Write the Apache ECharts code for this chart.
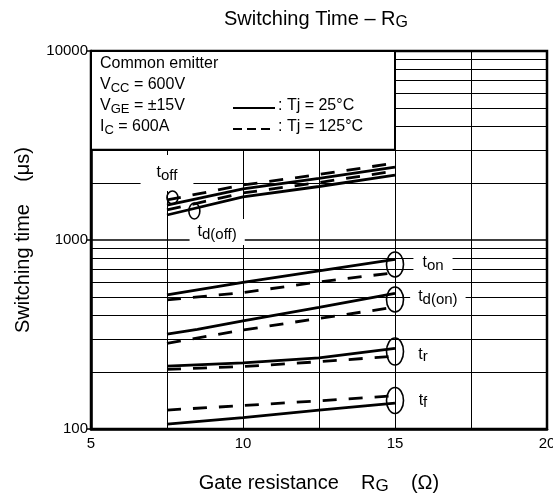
<!DOCTYPE html>
<html>
<head>
<meta charset="utf-8">
<script src="https://cdn.jsdelivr.net/npm/echarts@6/dist/echarts.min.js"></script>
<style>
  html, body { margin: 0; padding: 0; background: #fff; }
  #chart { width: 553px; height: 499px; }
</style>
</head>
<body>
<div id="chart"></div>
<script>
// gate resistance (ohm) where the curves were read
var rg = [7.5, 10, 12.5, 15];
var rgTdOn25 = [7.5, 8.5, 10, 12.5, 15];

// switching times, solid = Tj 25C, dashed = Tj 125C
var toff25 = [1531, 1862, 2116, 2432];
var toff125 = [1628, 1954, 2221, 2553];
var tdoff25 = [1356, 1690, 1919, 2207];
var tdoff125 = [1442, 1774, 2015, 2317];
var ton25 = [512, 597, 686, 790];
var ton125 = [482, 527, 600, 672];
var tdon25 = [318, 337, 373, 440, 522];
var tdon125 = [284, 334, 385, 441];
var tr25 = [215, 224, 238, 267];
var tr125 = [207, 214, 227, 243];
var tf25 = [106, 115, 126, 137];
var tf125 = [126, 133, 141, 150];

var xTicks = [5, 10, 15, 20];
var yMinorTicks = [200, 300, 400, 500, 600, 700, 800, 900, 2000, 3000, 4000, 5000, 6000, 7000, 8000, 9000];

var FONT = '"Liberation Sans", Arial, sans-serif';

function pairs(xs, ys) {
  return xs.map(function (x, i) { return [x, ys[i]]; });
}

function curve(name, xs, ys, dashed) {
  return {
    name: name,
    type: 'line',
    data: pairs(xs, ys),
    symbol: 'none',
    z: 10,
    silent: true,
    lineStyle: { color: '#000', width: 2.8, type: dashed ? [14, 12] : 'solid' }
  };
}

function sub(main, small) {
  return { a: { fontSize: main, fontFamily: FONT, fill: '#000', lineHeight: main + 4 },
           s: { fontSize: small, fontFamily: FONT, fill: '#000', lineHeight: small + 1, verticalAlign: 'bottom' } };
}

function axisRich(main, small) {
  return { a: { fontSize: main, fontFamily: FONT, color: '#000', lineHeight: main + 4 },
           s: { fontSize: small, fontFamily: FONT, color: '#000', lineHeight: small + 1, verticalAlign: 'bottom' } };
}

var chart = echarts.init(document.getElementById('chart'));

var series = [
  curve('toff 25', rg, toff25, false),
  curve('toff 125', rg, toff125, true),
  curve('td(off) 25', rg, tdoff25, false),
  curve('td(off) 125', rg, tdoff125, true),
  curve('ton 25', rg, ton25, false),
  curve('ton 125', rg, ton125, true),
  curve('td(on) 25', rgTdOn25, tdon25, false),
  curve('td(on) 125', rg, tdon125, true),
  curve('tr 25', rg, tr25, false),
  curve('tr 125', rg, tr125, true),
  curve('tf 25', rg, tf25, false),
  curve('tf 125', rg, tf125, true),
  {
    // minor log grid lines
    type: 'line',
    data: [],
    silent: true,
    markLine: {
      silent: true,
      z: 1,
      symbol: ['none', 'none'],
      label: { show: false },
      lineStyle: { color: '#000', width: 1, type: 'solid' },
      emphasis: { disabled: true },
      data: yMinorTicks.map(function (v) { return { yAxis: v }; })
    }
  }
];

var option = {
  animation: false,
  grid: {
    left: 91, right: 6, top: 51, bottom: 70,
    outerBoundsMode: 'none', containLabel: false,
    show: true, borderColor: '#000', borderWidth: 2.5
  },
  xAxis: {
    type: 'value',
    min: 5,
    max: 20,
    interval: 2.5,
    axisLine: { show: true, lineStyle: { color: '#000', width: 2.5 } },
    axisTick: { show: false },
    axisLabel: {
      color: '#000', fontSize: 15, fontFamily: FONT, margin: 7,
      formatter: function (v) { return xTicks.indexOf(v) >= 0 ? String(v) : ''; }
    },
    splitLine: { show: true, lineStyle: { color: '#000', width: 1 } },
    name: '{a|Gate resistance    R}{s|G}{a|    (Ω)}',
    nameLocation: 'middle',
    nameGap: 42,
    nameTextStyle: { rich: axisRich(20, 17) }
  },
  yAxis: {
    type: 'log',
    logBase: 10,
    min: 100,
    max: 10000,
    axisLine: { show: true, lineStyle: { color: '#000', width: 2.5 } },
    axisTick: { show: true, length: 4, lineStyle: { color: '#000', width: 1.5 } },
    axisLabel: {
      color: '#000', fontSize: 15, fontFamily: FONT, margin: 3,
      formatter: function (v) { return String(Math.round(v)); }
    },
    splitLine: { show: true, lineStyle: { color: '#000', width: 1.5 } },
    name: 'Switching time    (μs)',
    nameLocation: 'middle',
    nameGap: 58,
    nameTextStyle: { color: '#000', fontSize: 20, fontFamily: FONT }
  },
  series: series
};

chart.setOption(option);

// annotations placed through the axes
var notes = [
  { txt: '{a|t}{s|off}', at: [7.5, 2262], pad: [8, 16, 8, 16] },
  { txt: '{a|t}{s|d(off)}', at: [9.15, 1102], pad: [3, 8, 3, 8] },
  { txt: '{a|t}{s|on}', at: [16.25, 755], pad: [4, 9, 4, 9] },
  { txt: '{a|t}{s|d(on)}', at: [16.41, 499], pad: [3, 8, 3, 8] },
  { txt: '{a|t}{s|r}', at: [15.92, 249], pad: 0 },
  { txt: '{a|t}{s|f}', at: [15.92, 141], pad: 0 }
];
var loops = [
  { at: [7.68, 1678], rx: 5.5, ry: 6.5 },
  { at: [8.4, 1424], rx: 5.5, ry: 8 },
  { at: [15, 742], rx: 8.5, ry: 12.5 },
  { at: [15, 484], rx: 8.5, ry: 12.5 },
  { at: [15, 257], rx: 8.5, ry: 13.5 },
  { at: [15, 141.6], rx: 8.5, ry: 13 }
];

function px(p) {
  return chart.convertToPixel({ gridIndex: 0 }, p);
}

var graphics = [];

// title
graphics.push({
  type: 'text', x: 316, y: 19, z: 120,
  style: { text: '{a|Switching Time – R}{s|G}', rich: sub(20, 16), align: 'center', verticalAlign: 'middle' }
});

notes.forEach(function (n) {
  var p = px(n.at);
  graphics.push({
    type: 'text', x: p[0], y: p[1], z: 110,
    style: {
      text: n.txt, rich: sub(16, 15), align: 'center', verticalAlign: 'middle',
      backgroundColor: n.pad ? '#fff' : null, padding: n.pad
    }
  });
});

loops.forEach(function (l) {
  var p = px(l.at);
  graphics.push({
    type: 'ellipse', z: 112,
    shape: { cx: p[0], cy: p[1], rx: l.rx, ry: l.ry },
    style: { fill: 'none', stroke: '#000', lineWidth: 1.6 }
  });
});

// conditions box in the upper left
var b0 = px([5, 10000]);
var b1 = px([15, 3000]);
graphics.push({
  type: 'rect', z: 100,
  shape: { x: b0[0], y: b0[1], width: b1[0] - b0[0], height: b1[1] - b0[1] },
  style: { fill: '#fff', stroke: '#000', lineWidth: 2 }
});
var rows = [
  '{a|Common emitter}',
  '{a|V}{s|CC}{a| = 600V}',
  '{a|V}{s|GE}{a| = ±15V}',
  '{a|I}{s|C}{a| = 600A}'
];
rows.forEach(function (r, i) {
  graphics.push({
    type: 'text', x: b0[0] + 9, y: b0[1] + 13 + i * 21, z: 110,
    style: { text: r, rich: sub(16, 13), align: 'left', verticalAlign: 'middle' }
  });
});
graphics.push({
  type: 'line', z: 110,
  shape: { x1: b0[0] + 142, y1: b0[1] + 57, x2: b0[0] + 184, y2: b0[1] + 57 },
  style: { stroke: '#000', lineWidth: 2 }
});
graphics.push({
  type: 'line', z: 110,
  shape: { x1: b0[0] + 142, y1: b0[1] + 78, x2: b0[0] + 181, y2: b0[1] + 78 },
  style: { stroke: '#000', lineWidth: 2, lineDash: [9, 5] }
});
graphics.push({
  type: 'text', x: b0[0] + 187, y: b0[1] + 55, z: 110,
  style: { text: ': Tj = 25°C', font: '16px ' + FONT, fill: '#000', align: 'left', verticalAlign: 'middle' }
});
graphics.push({
  type: 'text', x: b0[0] + 187, y: b0[1] + 76, z: 110,
  style: { text: ': Tj = 125°C', font: '16px ' + FONT, fill: '#000', align: 'left', verticalAlign: 'middle' }
});

chart.setOption({ graphic: graphics });
</script>
</body>
</html>
